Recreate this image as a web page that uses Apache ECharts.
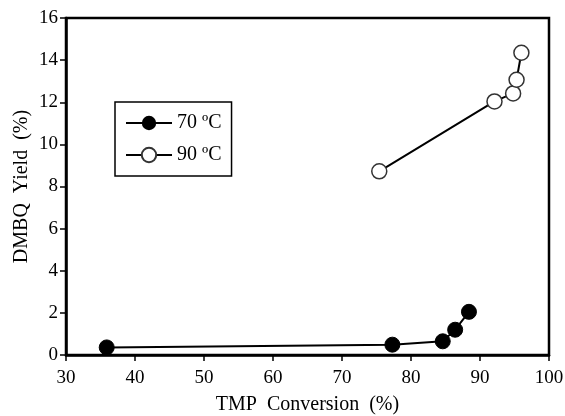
<!DOCTYPE html>
<html>
<head>
<meta charset="utf-8">
<script src="https://cdn.jsdelivr.net/npm/echarts@6/dist/echarts.min.js"></script>
<style>
  html, body { margin: 0; padding: 0; background: #fff; }
  #chart { width: 565px; height: 416px; }
</style>
</head>
<body>
<div id="chart"></div>
<script>
// TMP conversion (%) vs DMBQ yield (%)
var conv70 = [35.9, 77.3, 84.6, 86.4, 88.4];
var yield70 = [0.36, 0.49, 0.65, 1.2, 2.05];
var conv90 = [75.4, 92.1, 94.8, 95.3, 96.0];
var yield90 = [8.72, 12.04, 12.42, 13.07, 14.35];
var xTicks = [30, 40, 50, 60, 70, 80, 90, 100];
var yTicks = [0, 2, 4, 6, 8, 10, 12, 14, 16];

function pairs(xs, ys) {
    return xs.map(function (x, i) { return [x, ys[i]]; });
}

var font = 'Liberation Serif';
var chart = echarts.init(document.getElementById('chart'));
chart.setOption({
    animation: false,
    backgroundColor: '#fff',
    grid: {
        left: 66, right: 16, top: 18, bottom: 61,
        outerBoundsMode: 'none',
        show: true, borderColor: '#000', borderWidth: 2.5
    },
    legend: {
        orient: 'vertical',
        left: 115,
        top: 102,
        itemWidth: 46,
        itemHeight: 18,
        itemGap: 12,
        padding: [11, 10, 11, 10],
        borderColor: '#000',
        borderWidth: 1.5,
        textStyle: { fontFamily: font, fontSize: 20, color: '#000' },
        data: ['70 ºC', '90 ºC']
    },
    xAxis: {
        type: 'value',
        min: xTicks[0],
        max: xTicks[xTicks.length - 1],
        interval: 10,
        name: 'TMP  Conversion  (%)',
        nameLocation: 'middle',
        nameGap: 40,
        nameMoveOverlap: false,
        nameTextStyle: { fontFamily: font, fontSize: 20, color: '#000' },
        axisLine: { lineStyle: { color: '#000', width: 2.5 } },
        axisTick: { show: true, inside: false, length: 6, lineStyle: { color: '#000', width: 1.5 } },
        axisLabel: { fontFamily: font, fontSize: 19, color: '#000', margin: 14 },
        splitLine: { show: false }
    },
    yAxis: {
        type: 'value',
        min: yTicks[0],
        max: yTicks[yTicks.length - 1],
        interval: 2,
        name: 'DMBQ  Yield  (%)',
        nameLocation: 'middle',
        nameGap: 34,
        nameMoveOverlap: false,
        nameTextStyle: { fontFamily: font, fontSize: 20, color: '#000' },
        axisLine: { lineStyle: { color: '#000', width: 2.5 } },
        axisTick: { show: true, inside: false, length: 6, lineStyle: { color: '#000', width: 1.5 } },
        axisLabel: { fontFamily: font, fontSize: 19, color: '#000', margin: 8 },
        splitLine: { show: false }
    },
    series: [
        {
            name: '70 ºC',
            type: 'line',
            data: pairs(conv70, yield70),
            symbol: 'circle',
            symbolSize: 15,
            itemStyle: { color: '#000', borderColor: '#000' },
            lineStyle: { color: '#000', width: 2 }
        },
        {
            name: '90 ºC',
            type: 'line',
            data: pairs(conv90, yield90),
            symbol: 'circle',
            symbolSize: 15,
            itemStyle: { color: '#fff', borderColor: '#333', borderWidth: 1.5 },
            lineStyle: { color: '#000', width: 2 }
        }
    ]
});
</script>
</body>
</html>
